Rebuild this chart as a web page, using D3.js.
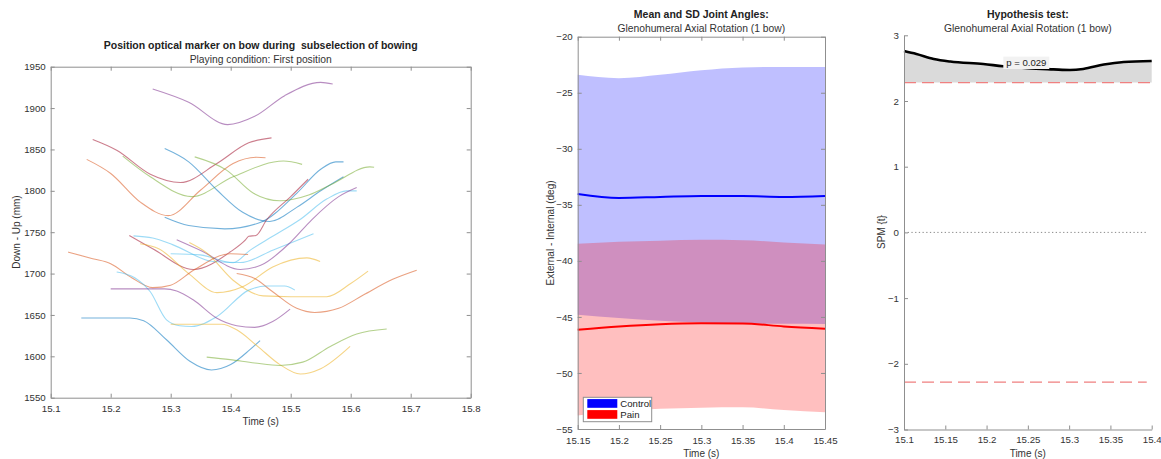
<!DOCTYPE html>
<html>
<head>
<meta charset="utf-8">
<script src="https://cdn.jsdelivr.net/npm/d3@7"></script>
<style>
  body { margin: 0; background: #fff; }
  svg { display: block; font-family: "Liberation Sans", Arial, Helvetica, sans-serif; }
  .tick text { fill: #333; font-size: 9.7px; }
  .domain, .tick line { stroke: #8f8f8f; stroke-width: 1; }
  .title { font-weight: bold; font-size: 10.5px; fill: #222; text-anchor: middle; white-space: pre; }
  .subtitle { font-size: 10.3px; fill: #333; text-anchor: middle; }
  .axlabel { font-size: 10px; fill: #333; text-anchor: middle; }
</style>
</head>
<body>
<svg id="fig" width="1161" height="459"></svg>
<script>
// ---------- Panel 1: bow marker trajectories (time s, vertical position mm) ----------
const bowTraces = [
  [[15.27,1923],[15.33,1907],[15.395,1880],[15.44,1890],[15.49,1915],[15.55,1931],[15.57,1929]],
  [[15.17,1862],[15.21,1849],[15.266,1820],[15.316,1810],[15.377,1833],[15.43,1858],[15.468,1864]],
  [[15.16,1838],[15.2,1821],[15.25,1786],[15.296,1770],[15.35,1801],[15.404,1833],[15.443,1840.5],[15.458,1840]],
  [[15.22,1842],[15.266,1817],[15.335,1793],[15.404,1817],[15.488,1836],[15.519,1832]],
  [[15.29,1851],[15.33,1835],[15.377,1801],[15.42,1774],[15.465,1763],[15.51,1780],[15.55,1800],[15.588,1817]],
  [[15.29,1768],[15.33,1758],[15.39,1754],[15.45,1762],[15.51,1797],[15.55,1826],[15.575,1835],[15.588,1835]],
  [[15.34,1841],[15.393,1825],[15.438,1797],[15.482,1788],[15.53,1795],[15.571,1809],[15.632,1829],[15.639,1828.5]],
  [[15.231,1746],[15.27,1730],[15.338,1705],[15.399,1726],[15.425,1741],[15.43,1745],[15.442,1746],[15.46,1765],[15.5,1793],[15.529,1814]],
  [[15.238,1745.6],[15.27,1743],[15.304,1734.7],[15.371,1714.5],[15.416,1713.3],[15.471,1728.6],[15.538,1748]],
  [[15.3,1724],[15.349,1722.6],[15.404,1713],[15.432,1728],[15.47,1745],[15.515,1765],[15.56,1790],[15.593,1800],[15.61,1800]],
  [[15.31,1741],[15.35,1728],[15.416,1705],[15.45,1710],[15.5,1738],[15.535,1765],[15.58,1793],[15.61,1804]],
  [[15.249,1736],[15.28,1730],[15.33,1700],[15.377,1677],[15.42,1684],[15.47,1708],[15.527,1719],[15.549,1714.5]],
  [[15.331,1737.5],[15.36,1725],[15.404,1692],[15.454,1673],[15.5,1672],[15.56,1672],[15.6,1688],[15.629,1703]],
  [[15.129,1726],[15.17,1718],[15.2,1712],[15.235,1695],[15.27,1683],[15.3,1686],[15.338,1704],[15.399,1724],[15.429,1723]],
  [[15.41,1700],[15.44,1694],[15.47,1678],[15.51,1658],[15.54,1653],[15.58,1658],[15.621,1674],[15.67,1693],[15.71,1704]],
  [[15.21,1702],[15.24,1695],[15.266,1678],[15.293,1644],[15.315,1637],[15.335,1636],[15.377,1648],[15.43,1680],[15.46,1685],[15.49,1685],[15.507,1680]],
  [[15.2,1681.5],[15.29,1681.5],[15.31,1679],[15.338,1668],[15.377,1646],[15.41,1637],[15.44,1635],[15.47,1642],[15.499,1657]],
  [[15.151,1646.4],[15.232,1646.4],[15.255,1643],[15.293,1620],[15.332,1594],[15.368,1583.5],[15.4,1590],[15.432,1608],[15.449,1619]],
  [[15.3,1638.7],[15.385,1638.7],[15.41,1632],[15.445,1612],[15.482,1590],[15.516,1578.6],[15.55,1585],[15.599,1612]],
  [[15.36,1599],[15.399,1596],[15.44,1592],[15.482,1589],[15.52,1593],[15.566,1612],[15.61,1627],[15.66,1633]]
];
const bowTraceColour = [3, 6, 1, 4, 0, 0, 4, 6, 5, 5, 3, 2, 2, 1, 1, 5, 3, 0, 2, 4];
const bowXTicks = [15.1, 15.2, 15.3, 15.4, 15.5, 15.6, 15.7, 15.8];
const bowYTicks = [1550, 1600, 1650, 1700, 1750, 1800, 1850, 1900, 1950];

// ---------- Panel 2: mean and SD joint angle (deg) ----------
const angleTime = [15.15, 15.2, 15.25, 15.3, 15.35, 15.4, 15.45];
const controlMean = [-34.03, -34.38, -34.3, -34.22, -34.22, -34.3, -34.21];
const controlUpper = [-23.4, -23.7, -23.4, -23.0, -22.75, -22.7, -22.7];
const controlLower = [-44.8, -45.1, -45.35, -45.5, -45.6, -45.62, -45.63];
const painMean = [-46.14, -45.85, -45.65, -45.57, -45.58, -45.85, -46.05];
const painUpper = [-38.47, -38.3, -38.2, -38.12, -38.15, -38.35, -38.53];
const painLower = [-53.8, -53.4, -53.2, -53.1, -53.07, -53.3, -53.5];
const angleXTicks = [15.15, 15.2, 15.25, 15.3, 15.35, 15.4, 15.45];
const angleYTicks = [-55, -50, -45, -40, -35, -30, -25, -20];
const groupNames = ["Control", "Pain"];

// ---------- Panel 3: SPM{t} hypothesis test ----------
const spmTime = [15.1, 15.115, 15.136, 15.156, 15.196, 15.22, 15.25, 15.281, 15.301, 15.317, 15.342, 15.366, 15.4];
const spmValue = [2.761, 2.716, 2.64, 2.6, 2.563, 2.53, 2.5, 2.482, 2.472, 2.487, 2.555, 2.594, 2.609];
const spmThreshold = 2.28;
const spmPLabel = "p = 0.029";
const spmXTicks = [15.1, 15.15, 15.2, 15.25, 15.3, 15.35, 15.4];
const spmYTicks = [-3, -2, -1, 0, 1, 2, 3];

// MATLAB default line colour order
const palette = ["#0072BD", "#D95319", "#EDB120", "#7E2F8E", "#77AC30", "#4DBEEE", "#A2142F"];

const svg = d3.select("#fig");
const fmt = d3.format("");
const TICK = 4;

// Draws bottom/left axes with inward ticks; optionally closes the box with top/right axes.
function drawAxes(g, x, y, xTicks, yTicks, box, xPad, yPad) {
  const [yBottom, yTop] = y.range();
  const [xLeft, xRight] = x.range();
  g.append("g").attr("transform", `translate(0,${yBottom})`)
    .call(d3.axisBottom(x).tickValues(xTicks).tickFormat(fmt).tickSizeInner(-TICK).tickSizeOuter(0).tickPadding(xPad));
  g.append("g").attr("transform", `translate(${xLeft},0)`)
    .call(d3.axisLeft(y).tickValues(yTicks).tickFormat(fmt).tickSizeInner(-TICK).tickSizeOuter(0).tickPadding(yPad));
  if (box) {
    g.append("g").attr("transform", `translate(0,${yTop})`)
      .call(d3.axisTop(x).tickValues(xTicks).tickFormat("").tickSizeInner(-TICK).tickSizeOuter(0));
    g.append("g").attr("transform", `translate(${xRight},0)`)
      .call(d3.axisRight(y).tickValues(yTicks).tickFormat("").tickSizeInner(-TICK).tickSizeOuter(0));
  }
}

function titles(cx, y1, t1, y2, t2) {
  svg.append("text").attr("class", "title").attr("xml:space", "preserve").attr("x", cx).attr("y", y1).text(t1);
  svg.append("text").attr("class", "subtitle").attr("x", cx).attr("y", y2).text(t2);
}

function yLabel(x, y, text) {
  svg.append("text").attr("class", "axlabel")
    .attr("transform", `translate(${x},${y}) rotate(-90)`).text(text);
}

function xLabel(x, y, text) {
  svg.append("text").attr("class", "axlabel").attr("x", x).attr("y", y).text(text);
}

// ===== Panel 1 =====
{
  const x = d3.scaleLinear().domain([15.1, 15.8]).range([50.7, 470.7]);
  const y = d3.scaleLinear().domain([1550, 1950]).range([397.7, 66.7]);
  const g = svg.append("g");
  const line = d3.line().x(d => x(d[0])).y(d => y(d[1])).curve(d3.curveMonotoneX);
  g.selectAll("path.trace").data(bowTraces).join("path")
    .attr("class", "trace")
    .attr("d", line)
    .attr("fill", "none")
    .attr("stroke", (d, i) => palette[bowTraceColour[i]])
    .attr("stroke-opacity", 0.55)
    .attr("stroke-width", 1.1);
  drawAxes(g, x, y, bowXTicks, bowYTicks, true, 7, 5);
  titles(260.7, 48.5, "Position optical marker on bow during  subselection of bowing", 62.5, "Playing condition: First position");
  yLabel(20, 232, "Down - Up (mm)");
  xLabel(260.7, 424.5, "Time (s)");
}

// ===== Panel 2 =====
{
  const x = d3.scaleLinear().domain([15.15, 15.45]).range([577.7, 825]);
  const y = d3.scaleLinear().domain([-55, -20]).range([429, 36.7]);
  const g = svg.append("g");
  const band = (lo, hi) => d3.area()
    .x((d, i) => x(angleTime[i])).y0((d, i) => y(lo[i])).y1((d, i) => y(hi[i]))
    .curve(d3.curveMonotoneX)(angleTime);
  const mean = m => d3.line()
    .x((d, i) => x(angleTime[i])).y((d, i) => y(m[i]))
    .curve(d3.curveMonotoneX)(angleTime);
  g.append("path").attr("d", band(controlLower, controlUpper)).attr("fill", "#0000ff").attr("fill-opacity", 0.25);
  g.append("path").attr("d", band(painLower, painUpper)).attr("fill", "#ff0000").attr("fill-opacity", 0.25);
  g.append("path").attr("d", mean(controlMean)).attr("fill", "none").attr("stroke", "#0000ff").attr("stroke-width", 2);
  g.append("path").attr("d", mean(painMean)).attr("fill", "none").attr("stroke", "#ff0000").attr("stroke-width", 2);
  drawAxes(g, x, y, angleXTicks, angleYTicks, true, 8, 5);
  titles(701.3, 18, "Mean and SD Joint Angles:", 31.8, "Glenohumeral Axial Rotation (1 bow)");
  yLabel(553.5, 233, "External - Internal (deg)");
  xLabel(701.3, 456.5, "Time (s)");

  // legend
  const lg = svg.append("g").attr("transform", "translate(583.3,397.3)");
  lg.append("rect").attr("width", 68.4).attr("height", 24.4).attr("fill", "#fff").attr("stroke", "#8f8f8f");
  const legendColours = ["#0000ff", "#ff0000"];
  groupNames.forEach((name, i) => {
    lg.append("rect").attr("x", 4).attr("y", 1.8 + i * 11).attr("width", 30).attr("height", 8.7).attr("fill", legendColours[i]);
    lg.append("text").attr("x", 37).attr("y", 9.5 + i * 11).attr("font-size", "9.6px").attr("fill", "#222").text(name);
  });
}

// ===== Panel 3 =====
{
  const x = d3.scaleLinear().domain([15.1, 15.4]).range([904, 1151.7]);
  const y = d3.scaleLinear().domain([-3, 3]).range([429.5, 35.3]);
  const g = svg.append("g");
  const pts = spmTime.map((t, i) => [t, spmValue[i]]);
  const area = d3.area().x(d => x(d[0])).y0(y(spmThreshold)).y1(d => y(d[1])).curve(d3.curveMonotoneX);
  g.append("path").attr("d", area(pts)).attr("fill", "#dadada");
  // zero line
  g.append("line").attr("x1", x(15.1)).attr("x2", x(15.395)).attr("y1", y(0)).attr("y2", y(0))
    .attr("stroke", "#8a8a8a").attr("stroke-width", 1).attr("stroke-dasharray", "1.3,2.4");
  // critical thresholds
  [spmThreshold, -spmThreshold].forEach((v, i) => {
    g.append("line").attr("x1", x(15.1)).attr("x2", i === 0 ? x(15.4) : x(15.394)).attr("y1", y(v)).attr("y2", y(v))
      .attr("stroke", "#f08080").attr("stroke-width", 1.2).attr("stroke-dasharray", "12,6");
  });
  const line = d3.line().x(d => x(d[0])).y(d => y(d[1])).curve(d3.curveMonotoneX);
  g.append("path").attr("d", line(pts)).attr("fill", "none").attr("stroke", "#000").attr("stroke-width", 2.6);
  drawAxes(g, x, y, spmXTicks, spmYTicks, false, 7, 5);

  // p-value label
  const lx = 1026.3, ly = 62.8;
  g.append("rect").attr("x", lx - 23).attr("y", ly - 6.2).attr("width", 46).attr("height", 12.4).attr("fill", "#f2f2f2");
  g.append("text").attr("x", lx).attr("y", ly + 3.4).attr("text-anchor", "middle")
    .attr("font-size", "9.6px").attr("fill", "#222").text(spmPLabel);

  titles(1027.8, 17.5, "Hypothesis test:", 31.8, "Glenohumeral Axial Rotation (1 bow)");
  yLabel(885, 232, "SPM {t}");
  xLabel(1027.8, 456.5, "Time (s)");
}
</script>
</body>
</html>
